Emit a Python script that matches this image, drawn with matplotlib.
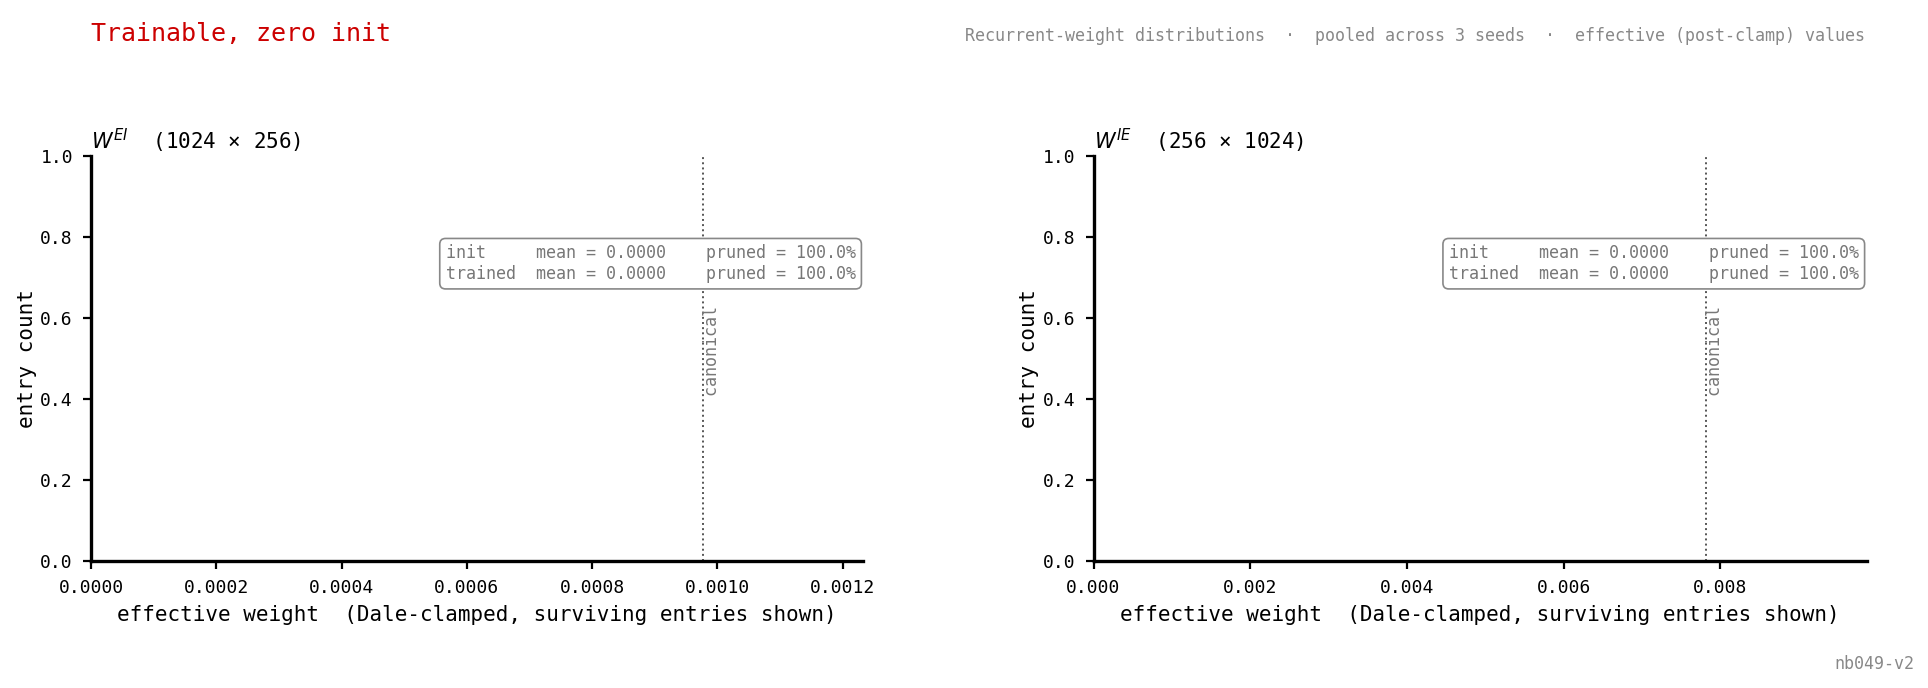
import numpy as np
import matplotlib
matplotlib.use("Agg")
import matplotlib.pyplot as plt

plt.rcParams['font.family'] = ['DejaVu Sans Mono', 'DejaVu Sans']

# data
panel_names = [r"$W^{EI}$", r"$W^{IE}$"]
panel_shapes = ["(1024 × 256)", "(256 × 1024)"]
canonical = [1 / 1024, 1 / 128]
init_mean = [0.0, 0.0]
trained_mean = [0.0, 0.0]
init_pruned = [100.0, 100.0]
trained_pruned = [100.0, 100.0]
# surviving entries after clamping (none survive)
init_weights = [np.array([]), np.array([])]
trained_weights = [np.array([]), np.array([])]

W, H = 1928, 688
fig = plt.figure(figsize=(9.64, 3.44), dpi=200)
axes = [fig.add_axes([91 / W, 1 - 561 / H, (863.3 - 91) / W, (561 - 156) / H]),
        fig.add_axes([1093.5 / W, 1 - 561 / H, (1866.5 - 1093.5) / W, (561 - 156) / H])]

for i, ax in enumerate(axes):
    xmax = 1.25 * canonical[i] * 1.01
    bins = np.linspace(0, xmax, 60)
    if len(init_weights[i]):
        ax.hist(init_weights[i], bins=bins, color="#999999", alpha=0.5)
    if len(trained_weights[i]):
        ax.hist(trained_weights[i], bins=bins, color="#cc0000", alpha=0.5)
    ax.axvline(canonical[i], color="#555555", ls=":", lw=0.7)
    ax.text(canonical[i], 0.63, "  canonical", transform=ax.get_xaxis_transform(),
            rotation=90, va="top", ha="left", fontsize=6, color="#777777")
    ax.set_xlim(0, xmax)
    ax.set_ylim(0, 1)
    ax.set_yticks(np.arange(0, 1.01, 0.2))
    ax.spines["top"].set_visible(False)
    ax.spines["right"].set_visible(False)
    ax.spines["left"].set_linewidth(1.2)
    ax.spines["bottom"].set_linewidth(1.2)
    ax.tick_params(labelsize=6.5, width=0.8, length=3)
    ax.set_xlabel("effective weight  (Dale-clamped, surviving entries shown)", fontsize=7.5,
                  labelpad=3)
    ax.set_ylabel("entry count", fontsize=7.5, labelpad=1.2)
    ax.set_title(panel_names[i] + "  " + panel_shapes[i], loc="left", fontsize=7.5, pad=2.5)
    box = (f"init     mean = {init_mean[i]:.4f}    pruned = {init_pruned[i]:.1f}%\n"
           f"trained  mean = {trained_mean[i]:.4f}    pruned = {trained_pruned[i]:.1f}%")
    ax.text(0.99, 0.782, box, transform=ax.transAxes, ha="right", va="top",
            fontsize=6, color="#777777", linespacing=1.2,
            bbox=dict(boxstyle="round,pad=0.35", fc="white", ec="#888888", lw=0.6))

fig.text(91 / W, 0.95, "Trainable, zero init", color="#cc0000", fontsize=9,
         ha="left", va="center")
fig.text(1865 / W, 0.948,
         "Recurrent-weight distributions  ·  pooled across 3 seeds  ·  effective (post-clamp) values",
         color="#888888", fontsize=6, ha="right", va="center")
fig.text(0.993, 0.035, "nb049-v2", color="#888888", fontsize=6, ha="right", va="center")

fig.savefig("out.png", dpi=200)
